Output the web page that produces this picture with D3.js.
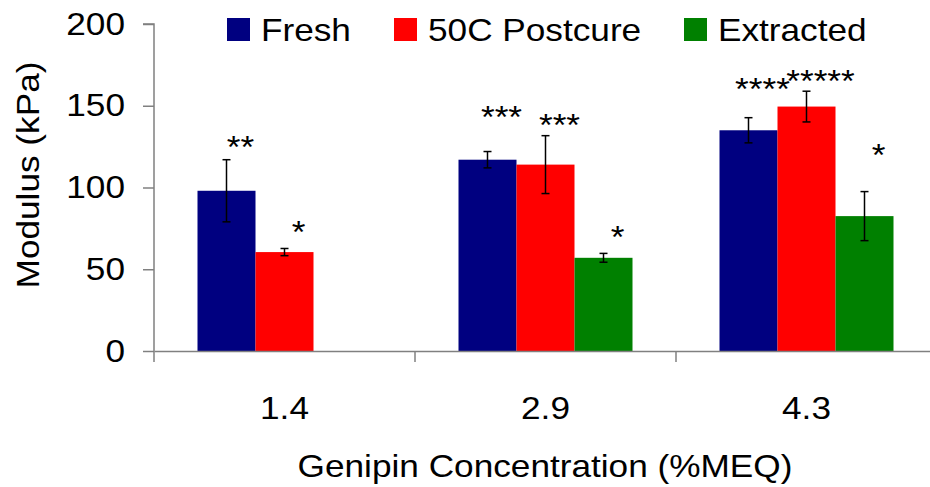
<meta charset="utf-8">
<script src="https://cdn.jsdelivr.net/npm/d3@7"></script>

<style>
  body { margin: 0; background: #fff; }
  text { font-family: "Liberation Sans", Arial, sans-serif; fill: #000; }
</style>

<div id="chart"></div>

<script>
// data
var concentrations = ["1.4", "2.9", "4.3"];
var seriesNames = ["Fresh", "50C Postcure", "Extracted"];
var seriesColors = ["#000080", "#ff0000", "#008000"];

var fresh     = [98, 117, 135];
var postcure  = [60.5, 114, 149.5];
var extracted = [null, 57, 82.5];

var freshErr     = [19, 5, 7.7];
var postcureErr  = [2.2, 17.7, 9.4];
var extractedErr = [null, 2.7, 15];

// significance stars and the value level they sit at
var freshStars     = ["**", "***", "****"];
var postcureStars  = ["*", "***", "*****"];
var extractedStars = [null, "*", "*"];
var freshStarY     = [128, 146, 163];
var postcureStarY  = [76, 141, 168];
var extractedStarY = [null, 73, 123];

var yTicks = [0, 50, 100, 150, 200];

var W = 930, H = 487;
var margin = {top: 24, left: 154};
var height = 327, width = 783;
var fs = 32, sx = 1.1;   // reference text is a bit wider than Arial

var svg = d3.select("#chart").append("svg")
  .attr("width", W).attr("height", H);

var g = svg.append("g")
  .attr("transform", "translate(" + margin.left + "," + margin.top + ")");

var x = d3.scaleBand().domain(concentrations).range([0, width]).padding(0);
var inner = d3.scaleBand().domain(seriesNames)
  .range([x.bandwidth() / 6, x.bandwidth() * 5 / 6]);
var y = d3.scaleLinear().domain([0, 200]).range([height, 0]);

var values = [fresh, postcure, extracted];
var errs = [freshErr, postcureErr, extractedErr];
var stars = [freshStars, postcureStars, extractedStars];
var starY = [freshStarY, postcureStarY, extractedStarY];

var rows = [];
concentrations.forEach(function(c, i) {
  seriesNames.forEach(function(s, j) {
    if (values[j][i] == null) return;
    rows.push({c: c, s: s, j: j, v: values[j][i], e: errs[j][i],
               star: stars[j][i], sy: starY[j][i]});
  });
});

// bars
g.selectAll(".bar").data(rows).enter().append("rect")
  .attr("class", "bar")
  .attr("x", d => x(d.c) + inner(d.s))
  .attr("y", d => y(d.v))
  .attr("width", inner.bandwidth())
  .attr("height", d => height - y(d.v))
  .attr("fill", d => seriesColors[d.j]);

// error bars
var eb = g.selectAll(".err").data(rows).enter().append("g")
  .attr("transform", d => "translate(" + (x(d.c) + inner(d.s) + inner.bandwidth() / 2) + ",0)")
  .attr("stroke", "#000").attr("stroke-width", 1.5);
eb.append("line").attr("y1", d => y(d.v + d.e)).attr("y2", d => y(d.v - d.e));
eb.append("line").attr("x1", -4).attr("x2", 4)
  .attr("y1", d => y(d.v + d.e)).attr("y2", d => y(d.v + d.e));
eb.append("line").attr("x1", -4).attr("x2", 4)
  .attr("y1", d => y(d.v - d.e)).attr("y2", d => y(d.v - d.e));

// stars
g.selectAll(".star").data(rows).enter().append("text")
  .attr("transform", d => "translate(" + (x(d.c) + inner(d.s) + inner.bandwidth() / 2 + 14) +
        "," + (y(d.sy) + 16) + ") scale(" + sx + ",1)")
  .attr("text-anchor", "middle")
  .attr("font-size", fs)
  .text(d => d.star);

// axes
var yAxis = g.append("g")
  .call(d3.axisLeft(y).tickValues(yTicks).tickSize(11).tickPadding(15.4));
var xAxis = g.append("g")
  .attr("transform", "translate(0," + height + ")")
  .call(d3.axisBottom(x).tickSize(0).tickPadding(45));

// category boundary ticks on the x axis
g.selectAll(".xb").data(concentrations).enter().append("line")
  .attr("x1", d => x(d)).attr("x2", d => x(d))
  .attr("y1", height).attr("y2", height + 11)
  .attr("stroke", "#808080").attr("stroke-width", 1.5);

[yAxis, xAxis].forEach(function(a) {
  a.select(".domain").attr("stroke", "#808080").attr("stroke-width", 1.5);
  a.selectAll(".tick line").attr("stroke", "#808080").attr("stroke-width", 1.5);
  a.selectAll("text").attr("font-size", fs).attr("fill", "#000")
    .attr("transform", "scale(" + sx + ",1)")
    .style("font-family", "'Liberation Sans', Arial, sans-serif");
});
yAxis.select(".domain").attr("d", "M0," + height + "V0H-11");

// axis titles
svg.append("text")
  .attr("transform", "translate(39,175) rotate(-90) scale(" + sx + ",1)")
  .attr("text-anchor", "middle")
  .attr("font-size", fs)
  .text("Modulus (kPa)");

svg.append("text")
  .attr("transform", "translate(545,477) scale(" + sx + ",1)")
  .attr("text-anchor", "middle")
  .attr("font-size", fs)
  .text("Genipin Concentration (%MEQ)");

// legend
var legX = [227, 394, 684];
var leg = svg.selectAll(".leg").data(seriesNames).enter().append("g")
  .attr("transform", (d, i) => "translate(" + legX[i] + ",18)");
leg.append("rect").attr("width", 23).attr("height", 23)
  .attr("fill", (d, i) => seriesColors[i]);
leg.append("text")
  .attr("transform", "translate(34,23) scale(" + sx + ",1)")
  .attr("font-size", fs)
  .text(d => d);
</script>
